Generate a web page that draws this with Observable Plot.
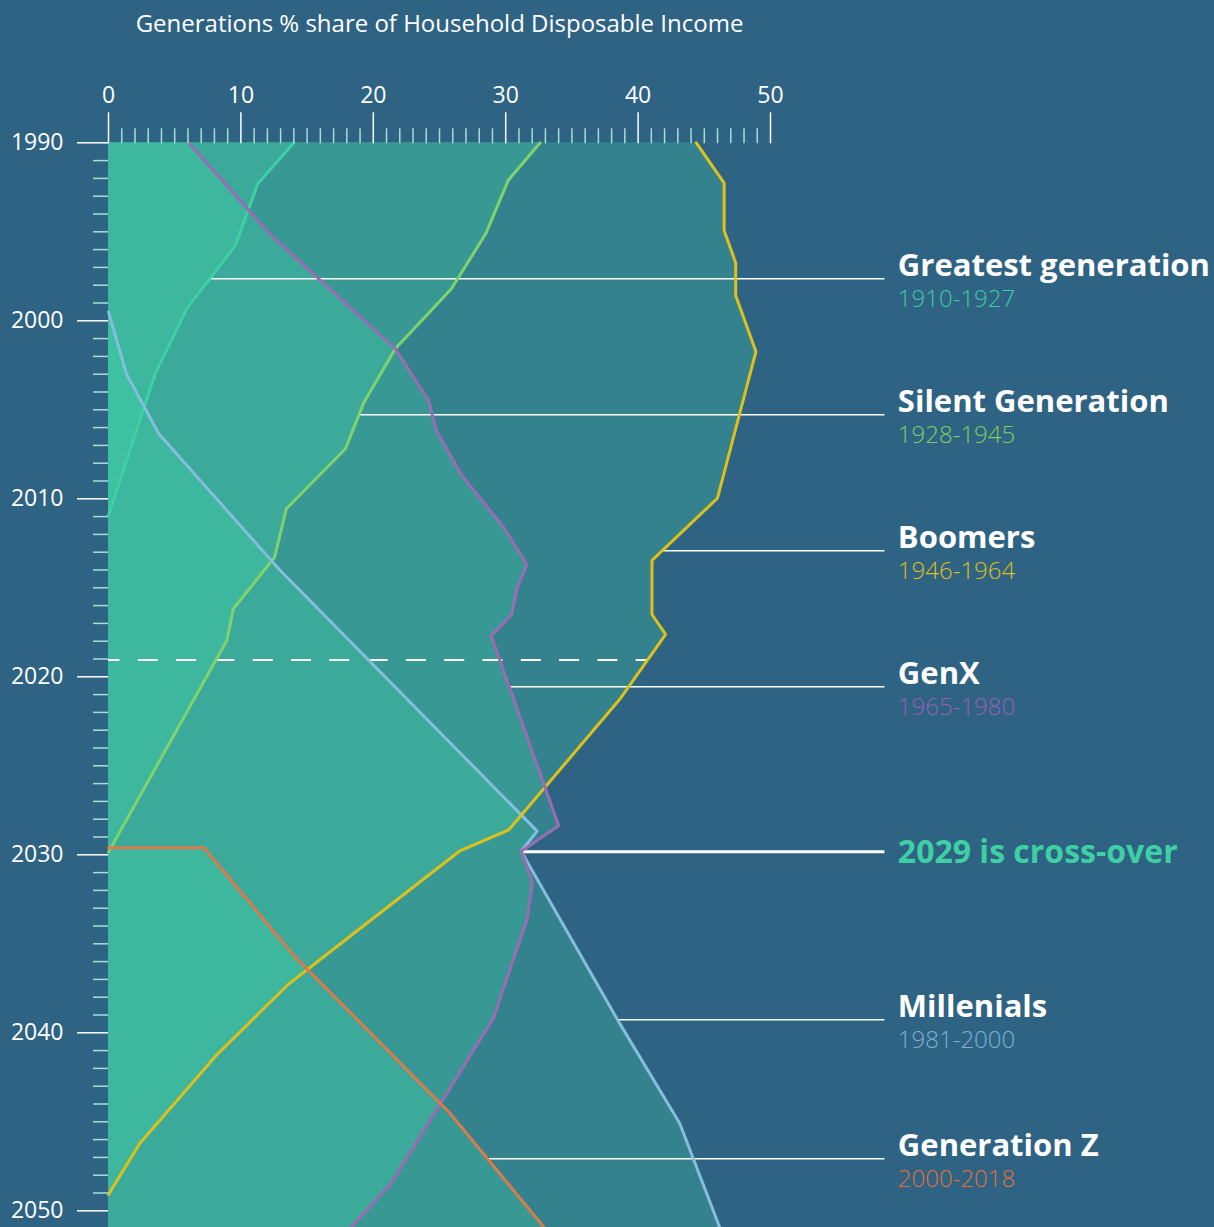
<!DOCTYPE html>
<html><head><meta charset="utf-8">
<script src="https://cdn.jsdelivr.net/npm/d3@7"></script>
<script src="https://cdn.jsdelivr.net/npm/@observablehq/plot@0.6"></script>
<style>
html,body{margin:0;padding:0;background:#2f6383;width:1214px;height:1227px;overflow:hidden}
#title{position:relative;height:44px;font-family:'Open Sans',sans-serif;font-size:24px;color:#fff}
#title span{position:absolute;left:0;width:879px;text-align:center;top:6px;line-height:normal;white-space:nowrap}
#chart svg{display:block}
</style></head><body>
<div id="title"><span>Generations % share of Household Disposable Income</span></div>
<div id="chart"></div>
<script>
// ---- data: [year, % share] vertices ----
const greatest = [[1990,14.0],[1992.3,11.27],[1995.77,9.58],[1999.29,5.94],[2002.92,3.55],[2010.94,0]];
const silent = [[1990,32.6],[1992.1,30.2],[1995.1,28.5],[1998.2,25.9],[2001.57,21.66],[2004.57,19.3],[2007.19,17.9],[2010.56,13.43],[2013.28,12.55],[2016.18,9.43],[2017.96,8.94],[2029.85,0]];
const boomers = [[1990,44.4],[1992.27,46.5],[1994.93,46.5],[1996.74,47.37],[1998.58,47.37],[2001.73,48.9],[2009.97,45.99],[2013.46,41.05],[2016.5,41.05],[2017.62,42.08],[2021.2,38.68],[2028.6,30.24],[2029.8,26.5],[2037.3,13.54],[2041.3,8.1],[2046.2,2.37],[2049.08,0]];
const genX = [[1990,6.06],[1995.2,12.28],[2001.57,21.66],[2004.48,24.18],[2006.16,24.75],[2008.69,26.69],[2011.6,29.84],[2013.69,31.6],[2014.97,30.88],[2016.5,30.45],[2017.7,28.9],[2028.37,34.0],[2029.8,31.17],[2031.54,32.03],[2033.6,31.62],[2039.2,29.06],[2048.5,21.3],[2050.94,18.3]];
const millenials = [[1999.5,0],[2002.98,1.36],[2006.35,3.8],[2014.03,12.97],[2028.67,32.38],[2029.8,31.17],[2039.4,38.55],[2045.08,43.14],[2050.94,46.17]];
const genZ = [[2029.6,0],[2029.6,7.2],[2035.75,14.1],[2044.55,25.83],[2050.94,32.9]];

const generations = ["Greatest generation","Silent Generation","Boomers","GenX","Millenials","Generation Z"];
const birthRanges = ["1910-1927","1928-1945","1946-1964","1965-1980","1981-2000","2000-2018"];
const lineColors = ["#3fcfa4","#80d26c","#dcc01c","#9b6cb4","#84bedc","#d97b4b"];
const rangeColors = ["#3fcba2","#7ccf62","#dfbf1a","#9a5fb0","#7cb0d2","#e0703a"];
const labelYears = [1997.64,2005.28,2012.92,2020.56,2039.27,2047.08];
const crossYear = 2029.83;
const crossLabel = "2029 is cross-over";
const todayYear = 2019.05;
const majorX = [0,10,20,30,40,50];
const minorX = d3.range(1,50).filter(d => d % 10 !== 0);
const majorY = [1990,2000,2010,2020,2030,2040,2050];
const minorY = d3.range(1991,2051).filter(d => d % 10 !== 0);

const seriesList = [greatest, silent, boomers, genX, millenials, genZ];
const drawOrder = [0,1,4,2,3,5];

function interp(s, yr){
  for (let i=1;i<s.length;i++){
    const [y0,v0]=s[i-1],[y1,v1]=s[i];
    if (yr>=y0 && yr<=y1 && y1>y0) return v0+(v1-v0)*(yr-y0)/(y1-y0);
  }
  return s[s.length-1][1];
}

const W = 1214, H = 1183;
const top0 = 98.3, pxYear = 17.8;
const labelEnd = 58.64, labelX = 59.62;

const marks = [];
seriesList.forEach(s => marks.push(Plot.areaX(s, {x1: 0, x2: d => d[1], y: d => d[0], fill: "#44e1aa", fillOpacity: 0.25})));
marks.push(Plot.ruleY([todayYear], {y: d => d, x1: 0, x2: interp(boomers, todayYear), stroke: "white", strokeWidth: 2, strokeDasharray: "20,18.3", strokeDashoffset: 8.5}));
// annotation rules
generations.forEach((g,i) => {
  const s = seriesList[i];
  marks.push(Plot.ruleY([labelYears[i]], {y: d => d, x1: interp(s, labelYears[i]), x2: labelEnd, stroke: "white", strokeWidth: 1.5}));
});
marks.push(Plot.ruleY([crossYear], {y: d => d, x1: interp(millenials, crossYear), x2: labelEnd, stroke: "white", strokeWidth: 3}));
drawOrder.forEach(i => marks.push(Plot.line(seriesList[i], {x: d => d[1], y: d => d[0], stroke: lineColors[i], strokeWidth: 3, strokeLinejoin: "miter"})));
// labels
generations.forEach((g,i) => {
  marks.push(Plot.text([g], {x: labelX, y: labelYears[i], text: d => d, textAnchor: "start", lineAnchor: "bottom", dy: -2.5, fontSize: 31, fontWeight: 700, fill: "white"}));
  marks.push(Plot.text([birthRanges[i]], {x: labelX, y: labelYears[i], text: d => d, textAnchor: "start", lineAnchor: "bottom", dy: 28, fontSize: 24, fontWeight: 300, fill: rangeColors[i]}));
});
marks.push(Plot.text([crossLabel], {x: labelX, y: crossYear, text: d => d, textAnchor: "start", lineAnchor: "bottom", dy: 11.5, fontSize: 32, fontWeight: 700, fill: "#3fcfa4"}));
// axes
marks.push(Plot.axisX(minorX, {anchor: "top", tickSize: 15, tickFormat: () => "", stroke: "#a6dfd8", strokeWidth: 1.5, label: null}));
marks.push(Plot.axisX(majorX, {anchor: "top", tickSize: 31, tickPadding: 9, fontSize: 23, stroke: "white", fill: "white", strokeWidth: 1.5, label: null}));
marks.push(Plot.axisY(minorY, {anchor: "left", tickSize: 15, tickFormat: () => "", stroke: "#a6dfd8", strokeWidth: 1.5, label: null}));
marks.push(Plot.axisY(majorY, {anchor: "left", tickSize: 31, tickPadding: 14, fontSize: 23, tickFormat: d => String(d), stroke: "white", fill: "white", strokeWidth: 1.5, label: null}));

const chart = Plot.plot({
  width: W, height: H,
  marginLeft: 108, marginRight: W - 770, marginTop: top0, marginBottom: H - (top0 + 60*pxYear),
  x: {domain: [0,50], range: [108,770]},
  y: {domain: [1990,2050], range: [top0, top0 + 60*pxYear]},
  style: {background: "transparent", color: "white", fontFamily: "'Open Sans', sans-serif", overflow: "visible"},
  marks
});
document.getElementById("chart").appendChild(chart);
</script></body></html>
